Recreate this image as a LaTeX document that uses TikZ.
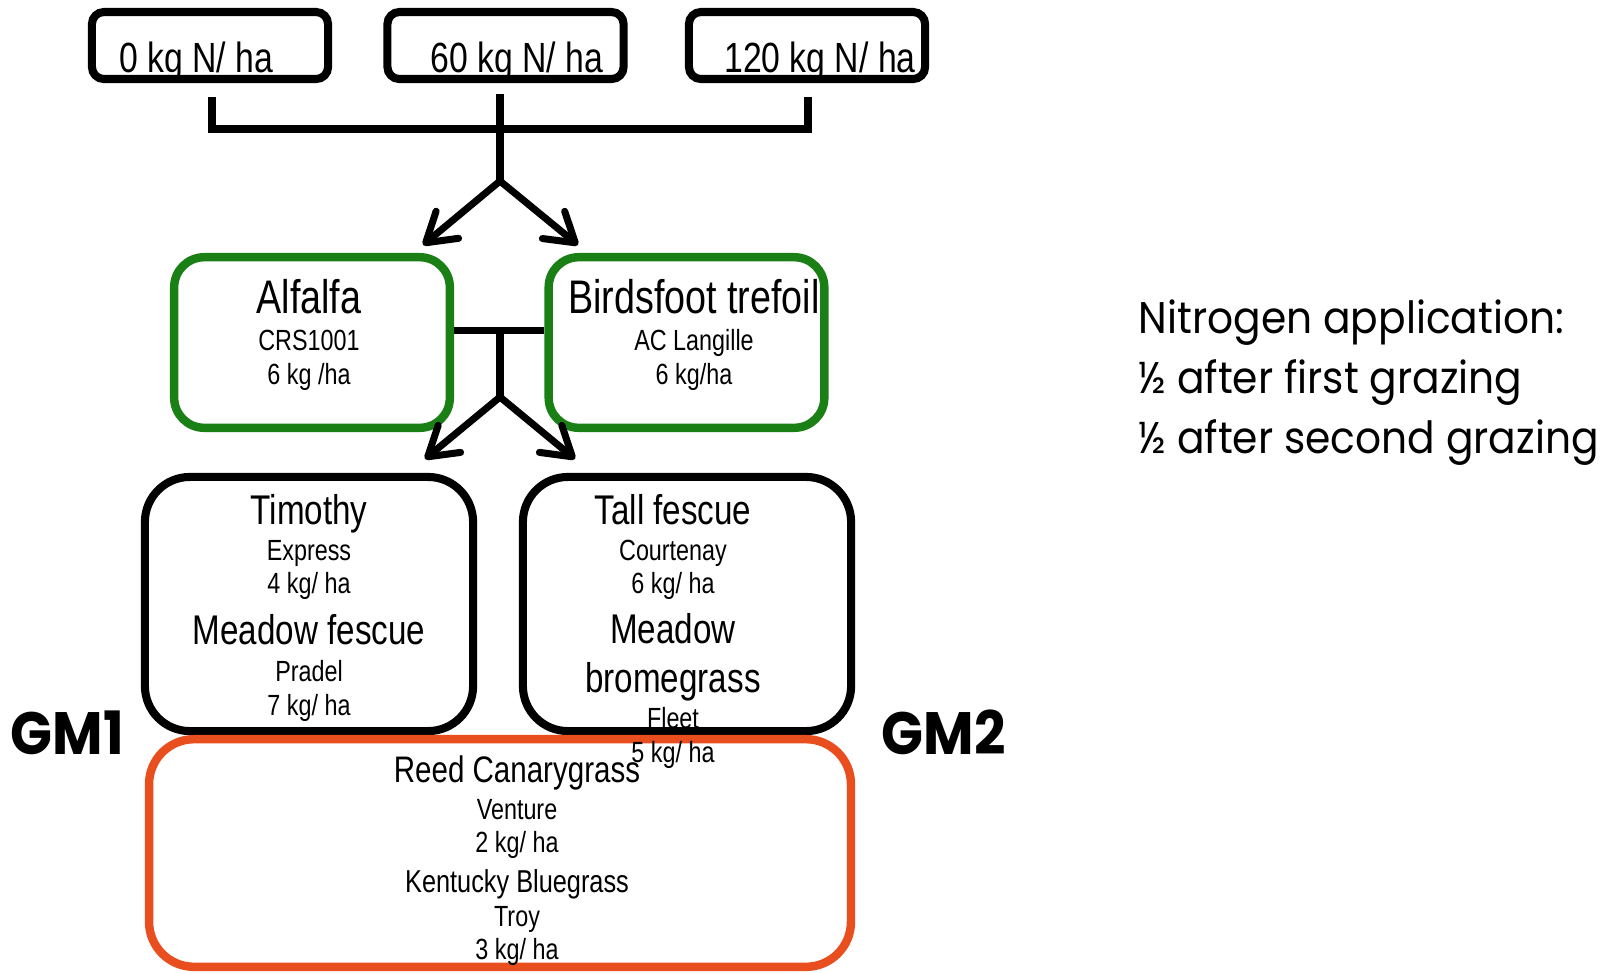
\documentclass[tikz,border=0pt]{standalone}
\usepackage{fontspec}
\setmainfont{Liberation Sans}[FakeStretch=0.8]
\newfontfamily\futfont{Poppins}[FakeStretch=0.92]
\usetikzlibrary{arrows.meta,calc}

\definecolor{legumegreen}{RGB}{26,128,22}
\definecolor{mixorange}{RGB}{232,78,30}

\tikzset{
  rbox/.style={draw, inner sep=0pt, line width=2.3pt},
  nbox/.style={rbox, rounded corners=1.2mm, minimum width=23.6mm, minimum height=6.7mm},
  gbox/.style={rbox, line width=2.4pt, draw=legumegreen, rounded corners=3mm, minimum width=27.55mm, minimum height=17.05mm},
  bbox/.style={rbox, rounded corners=4.5mm, minimum width=32.8mm, minimum height=25.4mm},
  obox/.style={rbox, line width=2.4pt, draw=mixorange, rounded corners=4.5mm, minimum width=70.15mm, minimum height=22.75mm},
  txt/.style={inner sep=0pt, anchor=base},
  toptxt/.style={txt, font=\fontsize{12}{14}\selectfont},
  bigtxt/.style={txt, font=\fontsize{13.4}{16}\selectfont},
  midtxt/.style={txt, font=\fontsize{11.8}{14}\selectfont},
  reedtxt/.style={txt, font=\fontsize{10.5}{12}\selectfont},
  kbtxt/.style={txt, font=\fontsize{9}{11}\selectfont},
  smalltxt/.style={txt, font=\fontsize{8.3}{10}\selectfont},
  conn/.style={line width=2pt},
  arr/.style={conn, -{Straight Barb[length=8pt,width=10pt,round]}},
  gmtxt/.style={inner sep=0pt, anchor=base west, font=\futfont\bfseries\fontsize{17}{20}\selectfont},
  notetxt/.style={inner sep=0pt, anchor=base west, font=\futfont\fontsize{12.6}{15}\selectfont}
}

\begin{document}
\begin{tikzpicture}[x=0.01cm, y=-0.01cm]
 \useasboundingbox (0,0) rectangle (1619,972);

 % nitrogen rates
 \foreach \nm/\x/\bx/\lbl in {n0/210/196/0, n60/505.5/517/60, n120/807/820/120}
  {
    \node[nbox] (\nm) at (\x,45.5) {};
    \node[toptxt] (\nm-t) at (\bx,72) {\lbl{} kg N/ ha};
  }
 \coordinate (topbar) at (500,129);
 \coordinate (fork1) at (500,181);
 \coordinate (alf-in) at (423,245);
 \coordinate (bft-in) at (578,245);
 \draw[conn] ($(n0.south)+(2,14)$) |- (topbar) -| ($(n120.south)+(1,14)$);
 \draw[conn] ($(n60.south)+(-5.5,11)$) -- (fork1);
 \draw[arr] (fork1) -- (alf-in);
 \draw[arr] (fork1) -- (bft-in);

 % legumes
 \node[gbox] (alf) at (312,342.5) {};
 \node[gbox] (bft) at (686.5,342.5) {};
 \coordinate (midbar) at (500,330);
 \coordinate (fork2) at (500,397);
 \coordinate (tim-in) at (425,459);
 \coordinate (tf-in) at (575,459);
 \draw[conn] ($(alf.east)+(0,-12)$) -- ($(bft.west)+(0,-12)$);
 \draw[conn] (midbar) -- (fork2);
 \draw[arr] (fork2) -- (tim-in);
 \draw[arr] (fork2) -- (tf-in);

 % grass mixtures
 \node[bbox] (tim) at (309,604) {};
 \node[bbox] (tf) at (687,604) {};
 \node[obox] (reed) at (500,853) {};

 \foreach \y/\txt/\sty [count=\i] in {313/Alfalfa/bigtxt, 350/CRS1001/smalltxt, 384/{6 kg /ha}/smalltxt}
  { \node[\sty] (alf-\i) at (309,\y) {\txt}; }
 \foreach \y/\txt/\sty [count=\i] in {313/Birdsfoot trefoil/bigtxt, 350/AC Langille/smalltxt, 384/{6 kg/ha}/smalltxt}
  { \node[\sty] (bft-\i) at (694,\y) {\txt}; }
 \foreach \y/\txt/\sty [count=\i] in {524/Timothy/midtxt, 560/Express/smalltxt, 593/{4 kg/ ha}/smalltxt,
   644/Meadow fescue/midtxt, 681/Pradel/smalltxt, 715/{7 kg/ ha}/smalltxt}
  { \node[\sty] (tim-\i) at (309,\y) {\txt}; }
 \foreach \y/\txt/\sty [count=\i] in {524/Tall fescue/midtxt, 560/Courtenay/smalltxt, 593/{6 kg/ ha}/smalltxt,
   643/Meadow/midtxt, 692/bromegrass/midtxt, 728/Fleet/smalltxt, 762/{5 kg/ ha}/smalltxt}
  { \node[\sty] (tf-\i) at (673,\y) {\txt}; }
 \foreach \y/\txt/\sty [count=\i] in {782/Reed Canarygrass/reedtxt, 819/Venture/smalltxt, 852/{2 kg/ ha}/smalltxt,
   892/Kentucky Bluegrass/kbtxt, 926/Troy/smalltxt, 959/{3 kg/ ha}/smalltxt}
  { \node[\sty] (reed-\i) at (517,\y) {\txt}; }

 \node[gmtxt] (gm1) at (10,754) {GM1};
 \node[gmtxt] (gm2) at (881,754) {GM2};

 % note
 \node[notetxt] (note1) at (1138,333) {Nitrogen application:};
 \node[notetxt] (note2) at (1138,393) {½ after first grazing};
 \node[notetxt] (note3) at (1138,453) {½ after second grazing};
\end{tikzpicture}
\end{document}
